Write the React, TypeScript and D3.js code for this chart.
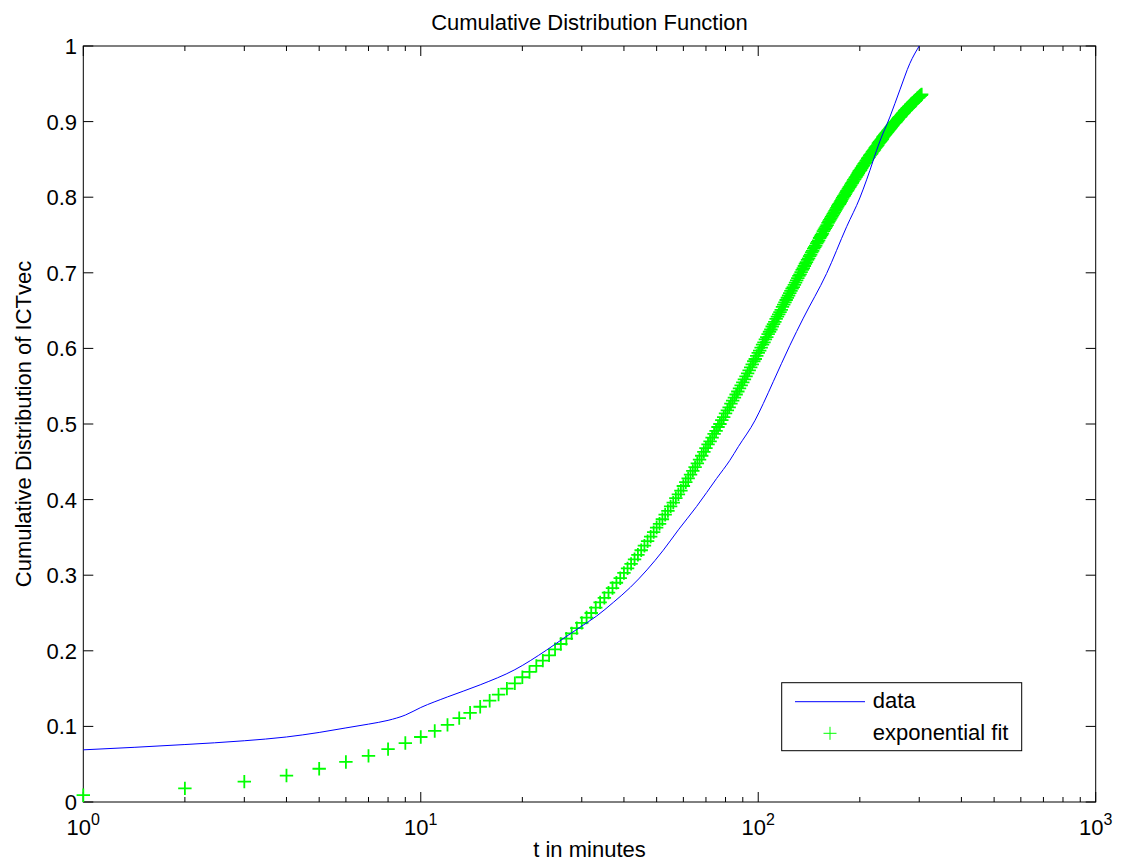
import React from "react";
import * as d3 from "d3";

// Exponential fit values (green "+"), one per integer minute t = 1, 2, 3, ...
const fitValues: number[] = [
  0.009, 0.018, 0.027, 0.035, 0.044, 0.053, 0.061, 0.070, 0.078, 0.086,
  0.094, 0.102, 0.111, 0.118, 0.126, 0.134, 0.142, 0.150, 0.157, 0.165,
  0.172, 0.180, 0.187, 0.194, 0.202, 0.209, 0.216, 0.223, 0.230, 0.237,
  0.244, 0.250, 0.257, 0.264, 0.270, 0.277, 0.283, 0.290, 0.296, 0.303,
  0.309, 0.315, 0.321, 0.327, 0.333, 0.339, 0.345, 0.351, 0.357, 0.363,
  0.368, 0.374, 0.380, 0.385, 0.391, 0.396, 0.402, 0.407, 0.412, 0.418,
  0.423, 0.428, 0.433, 0.438, 0.443, 0.448, 0.453, 0.458, 0.463, 0.468,
  0.473, 0.477, 0.482, 0.487, 0.491, 0.496, 0.500, 0.505, 0.509, 0.514,
  0.518, 0.522, 0.527, 0.531, 0.535, 0.539, 0.543, 0.547, 0.551, 0.555,
  0.559, 0.563, 0.567, 0.571, 0.575, 0.579, 0.583, 0.586, 0.590, 0.594,
  0.597, 0.601, 0.605, 0.608, 0.612, 0.615, 0.619, 0.622, 0.625, 0.629,
  0.632, 0.635, 0.639, 0.642, 0.645, 0.648, 0.651, 0.655, 0.658, 0.661,
  0.664, 0.667, 0.670, 0.673, 0.676, 0.679, 0.681, 0.684, 0.687, 0.690,
  0.693, 0.696, 0.698, 0.701, 0.704, 0.706, 0.709, 0.712, 0.714, 0.717,
  0.719, 0.722, 0.724, 0.727, 0.729, 0.732, 0.734, 0.736, 0.739, 0.741,
  0.743, 0.746, 0.748, 0.750, 0.752, 0.755, 0.757, 0.759, 0.761, 0.763,
  0.766, 0.768, 0.770, 0.772, 0.774, 0.776, 0.778, 0.780, 0.782, 0.784,
  0.786, 0.788, 0.790, 0.791, 0.793, 0.795, 0.797, 0.799, 0.801, 0.802,
  0.804, 0.806, 0.808, 0.809, 0.811, 0.813, 0.814, 0.816, 0.818, 0.819,
  0.821, 0.823, 0.824, 0.826, 0.827, 0.829, 0.830, 0.832, 0.834, 0.835,
  0.836, 0.838, 0.839, 0.841, 0.842, 0.844, 0.845, 0.846, 0.848, 0.849,
  0.851, 0.852, 0.853, 0.855, 0.856, 0.857, 0.858, 0.860, 0.861, 0.862,
  0.863, 0.865, 0.866, 0.867, 0.868, 0.869, 0.871, 0.872, 0.873, 0.874,
  0.875, 0.876, 0.877, 0.879, 0.880, 0.881, 0.882, 0.883, 0.884, 0.885,
  0.886, 0.887, 0.888, 0.889, 0.890, 0.891, 0.892, 0.893, 0.894, 0.895,
  0.896, 0.897, 0.898, 0.899, 0.899, 0.900, 0.901, 0.902, 0.903, 0.904,
  0.905, 0.906, 0.906, 0.907, 0.908, 0.909, 0.910, 0.911, 0.911, 0.912,
  0.913, 0.914, 0.915, 0.915, 0.916, 0.917, 0.918, 0.918, 0.919, 0.920,
  0.920, 0.921, 0.922, 0.923, 0.923, 0.924, 0.925, 0.925, 0.926, 0.927,
  0.927, 0.928, 0.929, 0.929, 0.930, 0.931, 0.931, 0.932, 0.932, 0.933,
  0.934, 0.934, 0.935, 0.935, 0.936,
];

// Empirical CDF ("data", blue line): t in minutes and cumulative value
const dataT: number[] = [
  1, 2, 3, 4, 5, 6, 7, 8, 9, 10, 12, 15, 19, 23.6, 26.4, 29.6, 33.2, 37.2,
  41.8, 46.8, 52.3, 58, 65.7, 75.3, 82.4, 87.3, 97.9, 103.5, 110.8, 124.1,
  136, 159.4, 182.8, 200, 209.5, 229.3, 245.5, 262.9, 281.4, 300,
];
const dataF: number[] = [
  0.069, 0.076, 0.081, 0.086, 0.092, 0.098, 0.103, 0.108, 0.115, 0.125,
  0.139, 0.155, 0.175, 0.201, 0.216, 0.231, 0.246, 0.264, 0.284, 0.307,
  0.333, 0.36, 0.391, 0.428, 0.452, 0.47, 0.505, 0.527, 0.556, 0.604,
  0.640, 0.699, 0.761, 0.799, 0.823, 0.874, 0.906, 0.942, 0.977, 1.0,
];

const yTicks: number[] = [0, 0.1, 0.2, 0.3, 0.4, 0.5, 0.6, 0.7, 0.8, 0.9, 1];
const yTickLabels: string[] = ["0", "0.1", "0.2", "0.3", "0.4", "0.5", "0.6", "0.7", "0.8", "0.9", "1"];
const xMajorTicks: number[] = [1, 10, 100, 1000];
const xMajorExponents: string[] = ["0", "1", "2", "3"];

const titleText = "Cumulative Distribution Function";
const xLabelText = "t in minutes";
const yLabelText = "Cumulative Distribution of ICTvec";
const legendLabels: string[] = ["data", "exponential fit"];

const W = 1121;
const H = 864;
const L = 83.3, R = 1095.7, T = 46, B = 802;
const FONT = "'Liberation Sans', Arial, Helvetica, sans-serif";
const FS = 22;

export default function App() {
  const x = d3.scaleLog().domain([1, 1000]).range([L, R]);
  const y = d3.scaleLinear().domain([0, 1]).range([B, T]);

  const minorTicks: number[] = [];
  for (const dec of [1, 10, 100]) for (let k = 2; k <= 9; k++) minorTicks.push(dec * k);

  const line = d3
    .line<number>()
    .x((_, i) => x(dataT[i]))
    .y((d) => y(d))
    .curve(d3.curveMonotoneX);

  const majLen = 10, minLen = 5;
  const ph = 6.7; // plus half-size

  return (
    <svg
      width={W}
      height={H}
      style={{ position: "absolute", left: 0, top: 0, background: "#fff" }}
      fontFamily={FONT}
    >
      <rect x={0} y={0} width={W} height={H} fill="#fff" />

      {/* axes box */}
      <rect x={L} y={T} width={R - L} height={B - T} fill="#fff" stroke="#000" strokeWidth={1} />

      {/* y ticks */}
      {yTicks.map((v, i) => (
        <g key={"yt" + i}>
          <line x1={L} x2={L + majLen} y1={y(v)} y2={y(v)} stroke="#000" />
          <line x1={R} x2={R - majLen} y1={y(v)} y2={y(v)} stroke="#000" />
          <text x={77} y={y(v)} dy="0.36em" textAnchor="end" fontSize={FS}>
            {yTickLabels[i]}
          </text>
        </g>
      ))}

      {/* x minor ticks */}
      {minorTicks.map((v, i) => (
        <g key={"xm" + i}>
          <line x1={x(v)} x2={x(v)} y1={B} y2={B - minLen} stroke="#000" />
          <line x1={x(v)} x2={x(v)} y1={T} y2={T + minLen} stroke="#000" />
        </g>
      ))}

      {/* x major ticks */}
      {xMajorTicks.map((v, i) => (
        <g key={"xM" + i}>
          <line x1={x(v)} x2={x(v)} y1={B} y2={B - majLen} stroke="#000" />
          <line x1={x(v)} x2={x(v)} y1={T} y2={T + majLen} stroke="#000" />
          <text x={x(v) - 16.7} y={835} fontSize={FS}>
            10
            <tspan dy={-10} fontSize={16}>
              {xMajorExponents[i]}
            </tspan>
          </text>
        </g>
      ))}

      {/* exponential fit: green plus markers */}
      <g stroke="#00ff00" strokeWidth={1.8}>
        {fitValues.map((v, i) => {
          const cx = x(i + 1);
          const cy = y(v);
          return (
            <path
              key={"p" + i}
              d={`M${cx - ph},${cy}H${cx + ph}M${cx},${cy - ph}V${cy + ph}`}
            />
          );
        })}
      </g>

      {/* data line */}
      <path d={line(dataF) || ""} fill="none" stroke="#0000ff" strokeWidth={1} />

      {/* title and labels */}
      <text x={(L + R) / 2} y={30} textAnchor="middle" fontSize={FS}>
        {titleText}
      </text>
      <text x={(L + R) / 2} y={857} textAnchor="middle" fontSize={FS}>
        {xLabelText}
      </text>
      <text
        transform={`translate(31,${(T + B) / 2}) rotate(-90)`}
        textAnchor="middle"
        fontSize={FS}
      >
        {yLabelText}
      </text>

      {/* legend */}
      <g>
        <rect x={781.7} y={682.7} width={240} height={68} fill="#fff" stroke="#000" strokeWidth={1} />
        <line x1={795} x2={865} y1={701.7} y2={701.7} stroke="#0000ff" strokeWidth={1} />
        <text x={872.7} y={708.3} fontSize={FS}>
          {legendLabels[0]}
        </text>
        <path
          d={`M${830 - 6.5},733.3H${830 + 6.5}M830,${733.3 - 6.5}V${733.3 + 6.5}`}
          stroke="#00ff00"
          strokeWidth={1}
        />
        <text x={872.7} y={740} fontSize={FS}>
          {legendLabels[1]}
        </text>
      </g>
    </svg>
  );
}
